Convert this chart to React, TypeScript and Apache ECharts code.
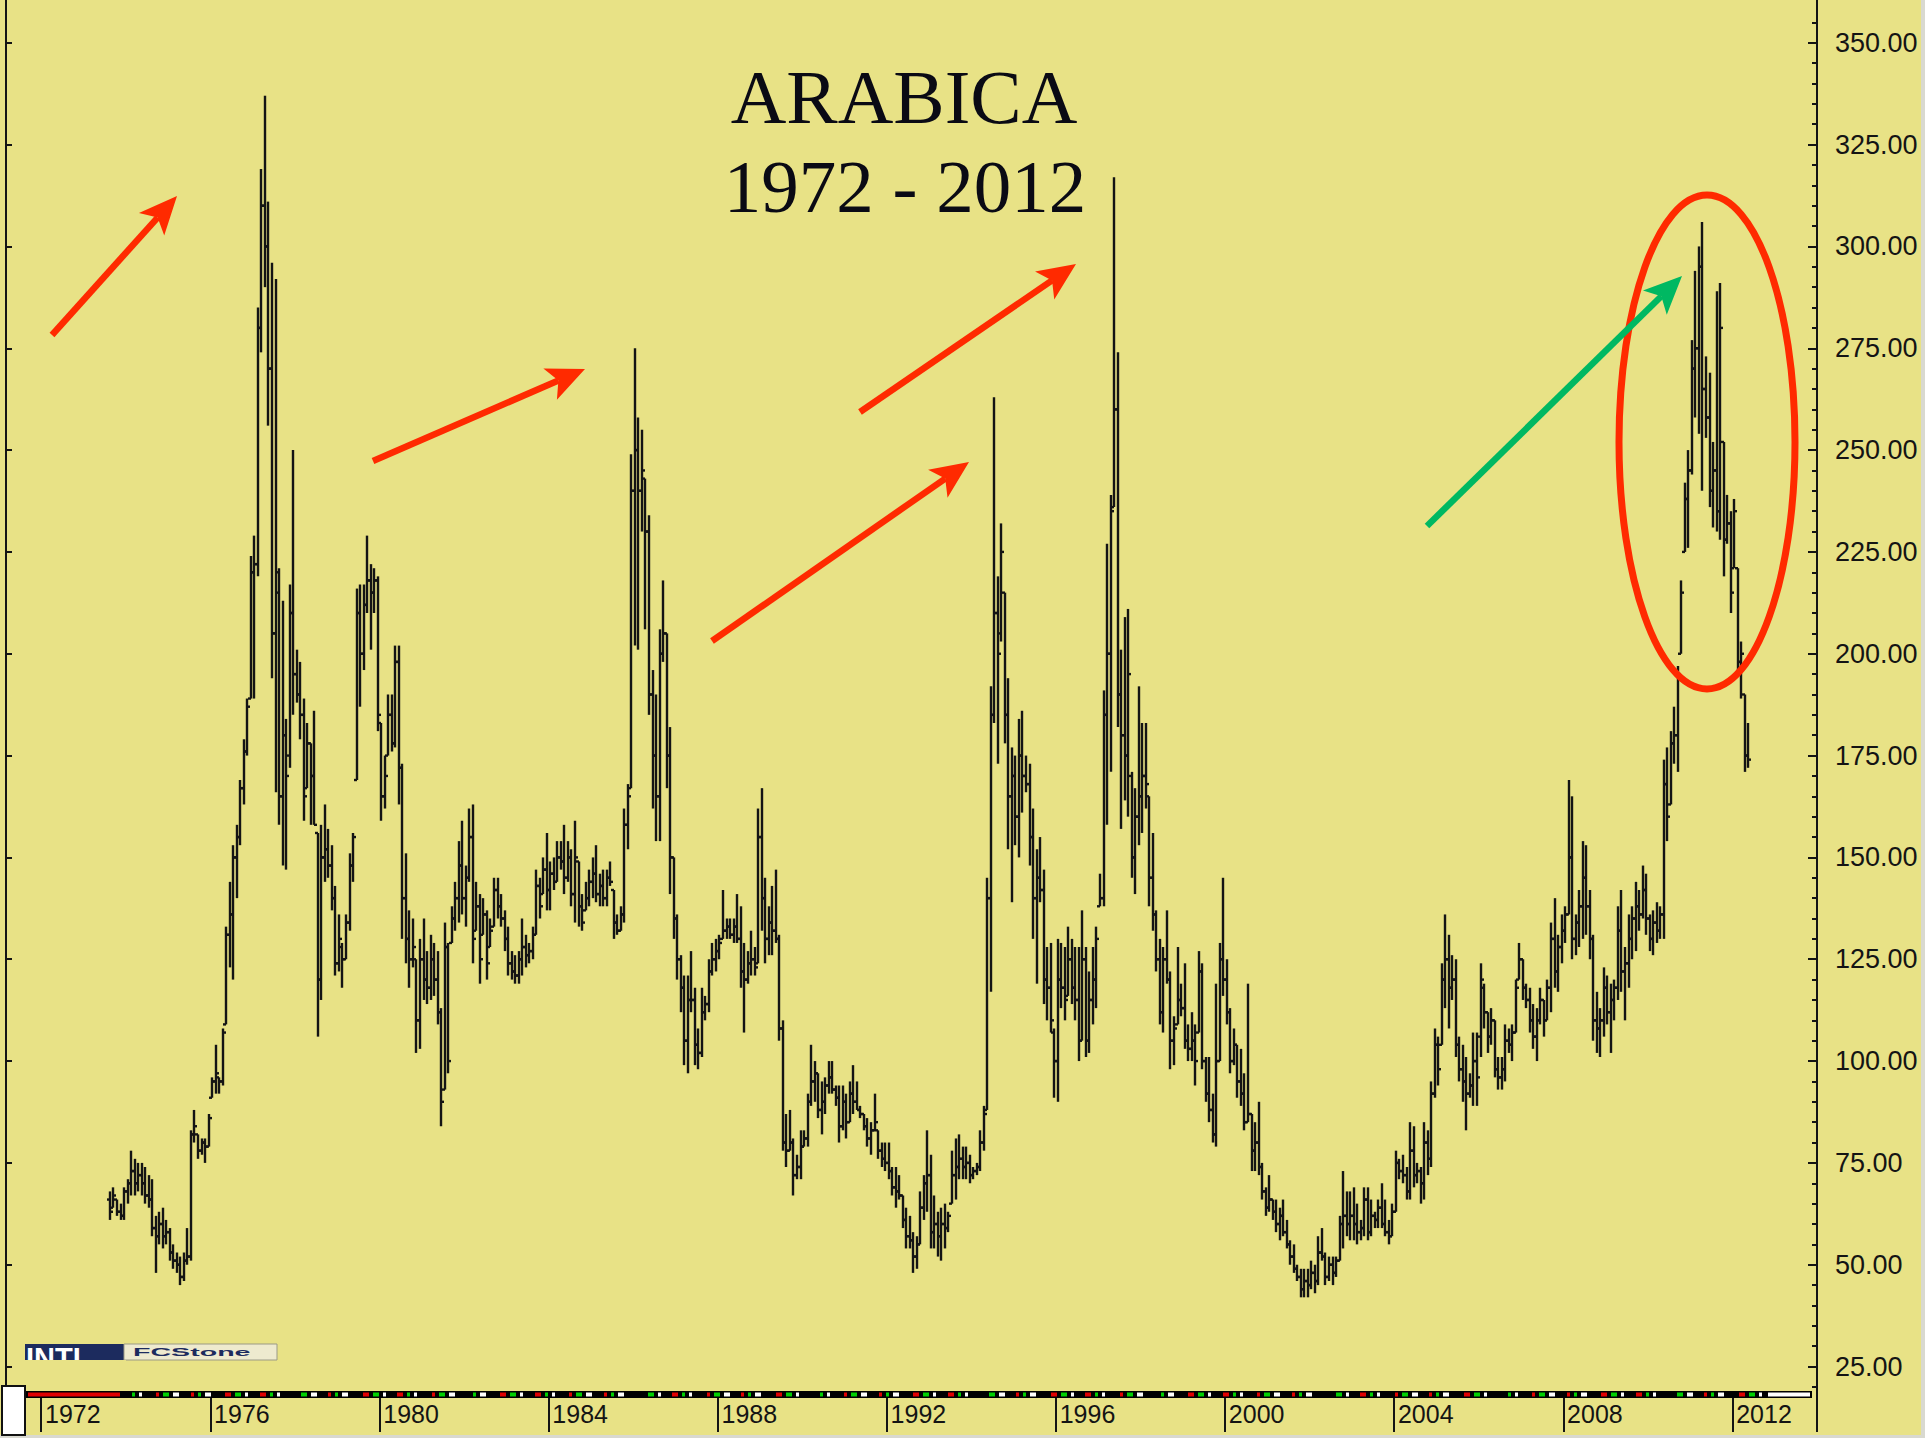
import React, { useEffect, useRef } from 'react';
import * as echarts from 'echarts';

// ---- axis definitions ----
const AXIS_START_YEAR = 1971;
const AXIS_START_MONTH = 3; // first month slot on the time axis (Mar 1971)
const AXIS_MONTHS = 514; // Mar 1971 .. Dec 2013
const FIRST_BAR_SLOT = 29; // Aug 1973

const YEAR_LABELS = ['1972', '1976', '1980', '1984', '1988', '1992', '1996', '2000', '2004', '2008', '2012'];
const PRICE_TICKS = [25, 50, 75, 100, 125, 150, 175, 200, 225, 250, 275, 300, 325, 350];
const MINOR_TICKS = [20, 30, 35, 40, 45, 55, 60, 65, 70, 80, 85, 90, 95, 105, 110, 115, 120, 130, 135, 140, 145, 155, 160, 165, 170, 180, 185, 190, 195, 205, 210, 215, 220, 230, 235, 240, 245, 255, 260, 265, 270, 280, 285, 290, 295, 305, 310, 315, 320, 330, 335, 340, 345, 355];
const Y_MIN = 19;
const Y_MAX = 360.5;

// ---- monthly OHLC, Aug 1973 .. Apr 2012 (US cents / lb) ----
const HIGH = [
  68, 69, 66, 65, 69, 71, 78, 76, 75, 75, 74, 72,
  71, 62, 63, 64, 61, 59, 55, 53, 52, 53, 59, 83,
  88, 82, 81, 81, 87, 96, 104, 96, 108, 133, 144, 153,
  158, 169, 179, 189, 224, 229, 285, 319, 337, 311, 296, 292,
  221, 213, 184, 217, 250, 201, 198, 189, 183, 178, 186, 156,
  158, 163, 157, 153, 143, 136, 129, 136, 151, 156, 216, 217,
  217, 229, 222, 221, 219, 183, 175, 190, 190, 202, 202, 173,
  151, 137, 135, 125, 130, 135, 127, 131, 129, 127, 113, 134,
  129, 138, 144, 154, 159, 148, 162, 163, 144, 141, 140, 137,
  135, 145, 145, 141, 137, 133, 127, 126, 127, 135,
  131, 129, 133, 147, 145, 150, 156, 149, 150, 154, 154, 158,
  154, 152, 159, 149, 141, 144, 147, 150, 153, 146, 147, 147,
  149, 142, 136, 138, 162, 168, 249, 275, 258, 255, 243, 234,
  196, 190, 206, 218, 205, 182, 150, 136, 126, 121, 121, 127,
  118, 108, 118, 116, 125, 129, 130, 131, 142, 135, 135, 135,
  141, 138, 129, 127, 132, 128, 162, 167, 145, 138, 143, 147,
  131, 110, 87, 88, 81, 77, 83, 83, 92, 104, 100, 97,
  95, 96, 100, 100, 94, 94, 94, 92, 95, 99, 95, 89,
  87, 86, 85, 92, 83, 80, 80, 80, 74, 74, 72, 67,
  64, 62, 58, 57, 68, 72, 83, 77, 67,
  63, 64, 65, 63, 78, 81, 82, 79, 79, 77, 74, 75,
  83, 89, 145, 192, 263, 219, 232, 215, 194, 177, 175, 184,
  186, 175, 173, 162, 152, 155, 147, 128, 129, 108, 130, 129,
  128, 133, 130, 128, 128, 137, 128, 122, 128, 133, 146, 191,
  227, 239, 317, 274, 201, 209, 211, 171, 167, 192, 183, 183,
  165, 156, 137, 130, 128, 137, 122, 111, 128, 119, 124, 109,
  112, 109, 127, 124, 101, 101, 92, 119, 129, 145, 125, 113,
  108, 104, 103, 97, 119, 87, 85, 90, 75, 69, 72, 66,
  66, 64, 66, 61, 56, 55, 50, 49, 49, 49, 51, 50,
  57, 59, 53, 52, 52, 52, 62, 73, 68, 68,
  69, 65, 61, 69, 69, 66, 63, 66, 70, 66, 61, 65,
  78, 76, 77, 74, 85, 84, 75, 74, 85, 83, 95, 108,
  106, 124, 136, 131, 126, 125, 106, 104, 101, 97, 107, 107,
  124, 119, 112, 113, 110, 101, 101, 109, 108, 109, 120, 129,
  125, 119, 118, 114, 113, 118, 115, 120, 134, 140, 131, 136,
  138, 169, 165, 136, 142, 154, 153, 142, 131, 117, 113, 123,
  121, 119, 120, 138, 142, 128, 136, 138, 144, 142, 148, 146,
  136, 137, 139, 138, 174, 177, 181, 187, 197, 218, 242, 250,
  277, 294, 300, 306, 273, 269, 252, 289, 291, 252, 239, 235,
  238, 221, 203, 190, 183,
];
const LOW = [
  61, 64, 62, 61, 61, 65, 67, 67, 68, 67, 65, 64,
  57, 48, 55, 54, 55, 51, 49, 48, 45, 46, 50, 51,
  80, 76, 77, 75, 79, 91, 92, 92, 94, 109, 123, 120,
  140, 153, 163, 175, 189, 189, 219, 274, 290, 256, 194, 166,
  158, 148, 147, 172, 185, 188, 179, 159, 167, 158, 158, 106,
  115, 144, 145, 137, 121, 122, 118, 125, 132, 144, 169, 187,
  196, 210, 201, 210, 181, 159, 162, 175, 176, 177, 163, 130,
  124, 118, 123, 102, 103, 115, 114, 115, 116, 109, 84, 93,
  97, 129, 132, 134, 136, 133, 144, 124, 132, 119, 131, 120,
  128, 133, 135, 133, 127, 121, 120, 119, 119, 121,
  123, 124, 125, 131, 135, 141, 137, 137, 142, 144, 147, 141,
  144, 138, 134, 133, 132, 137, 138, 140, 139, 138, 138, 138,
  143, 130, 131, 132, 134, 152, 167, 202, 201, 230, 206, 185,
  162, 154, 154, 198, 167, 141, 130, 120, 112, 99, 97, 112,
  99, 98, 101, 110, 112, 121, 122, 125, 130, 130, 130, 129,
  129, 118, 107, 119, 121, 121, 124, 132, 124, 126, 126, 129,
  105, 78, 74, 78, 67, 71, 71, 79, 79, 89, 90, 86,
  82, 87, 92, 92, 89, 80, 83, 81, 85, 87, 88, 86,
  83, 79, 77, 83, 76, 74, 73, 71, 67, 64, 66, 59,
  54, 54, 48, 49, 55, 61, 63, 54, 54,
  52, 51, 54, 58, 65, 66, 71, 71, 71, 70, 71, 72,
  73, 78, 88, 117, 183, 173, 203, 178, 152, 139, 153, 150,
  161, 166, 148, 130, 119, 139, 114, 110, 107, 91, 90, 113,
  110, 116, 114, 110, 100, 105, 101, 102, 109, 113, 138, 138,
  158, 171, 236, 182, 157, 164, 160, 145, 141, 153, 156, 162,
  138, 132, 122, 109, 107, 119, 98, 99, 109, 111, 103, 100,
  100, 94, 107, 98, 90, 85, 80, 79, 100, 116, 109, 97,
  99, 91, 89, 83, 85, 73, 73, 72, 66, 62, 63, 61,
  58, 56, 57, 54, 50, 48, 46, 42, 42, 42, 44, 43,
  45, 51, 45, 46, 45, 47, 51, 54, 57, 56,
  56, 55, 56, 57, 56, 57, 59, 59, 59, 57, 55, 57,
  63, 71, 70, 66, 66, 69, 70, 65, 66, 72, 74, 91,
  94, 104, 113, 108, 115, 101, 95, 90, 83, 91, 89, 89,
  101, 108, 102, 104, 96, 93, 93, 95, 102, 100, 107, 120,
  115, 113, 107, 103, 100, 109, 106, 110, 112, 118, 117, 124,
  129, 136, 125, 126, 128, 130, 131, 125, 105, 102, 101, 106,
  109, 102, 110, 115, 117, 110, 118, 125, 127, 132, 135, 131,
  127, 126, 129, 130, 130, 154, 163, 173, 171, 200, 225, 226,
  244, 258, 254, 240, 253, 236, 231, 230, 228, 219, 227, 210,
  221, 195, 189, 171, 172,
];
const OPEN = [
  66, 64, 66, 63, 62, 68, 70, 73, 70, 72, 70, 67,
  66, 59, 57, 60, 57, 58, 53, 51, 50, 47, 51, 52,
  82, 82, 78, 80, 79, 91, 95, 96, 95, 109, 131, 136,
  150, 155, 167, 176, 189, 220, 222, 280, 310, 300, 270, 205,
  215, 165, 180, 175, 210, 195, 190, 185, 167, 178, 170, 156,
  120, 150, 152, 148, 140, 124, 128, 125, 134, 148, 169, 210,
  200, 212, 218, 215, 218, 183, 165, 175, 185, 178, 198, 172,
  140, 130, 125, 125, 110, 125, 120, 118, 125, 120, 112, 93,
  128, 129, 135, 140, 148, 140, 145, 155, 132, 138, 131, 136,
  128, 133, 142, 138, 135, 130, 124, 122, 121, 125,
  128, 126, 127, 131, 143, 141, 147, 142, 146, 144, 150, 149,
  145, 150, 141, 149, 138, 137, 140, 144, 146, 141, 143, 140,
  145, 142, 134, 132, 136, 158, 167, 240, 250, 240, 243, 230,
  190, 175, 165, 200, 205, 175, 150, 135, 125, 118, 105, 115,
  115, 104, 102, 112, 114, 122, 125, 127, 130, 132, 133, 131,
  133, 130, 122, 120, 124, 125, 124, 155, 140, 130, 134, 132,
  130, 108, 80, 78, 80, 72, 74, 79, 81, 90, 95, 97,
  88, 90, 94, 96, 93, 91, 84, 90, 85, 92, 90, 88,
  87, 84, 81, 83, 83, 78, 76, 75, 73, 69, 68, 67,
  61, 57, 56, 52, 55, 64, 70, 72, 58,
  60, 57, 60, 59, 65, 72, 74, 76, 74, 75, 72, 73,
  74, 80, 88, 140, 185, 210, 205, 215, 185, 165, 170, 160,
  175, 170, 168, 155, 140, 145, 142, 120, 118, 107, 100, 120,
  118, 116, 125, 118, 115, 105, 125, 105, 115, 120, 138, 140,
  185, 200, 236, 260, 190, 180, 175, 170, 150, 160, 165, 170,
  165, 145, 136, 125, 112, 125, 120, 105, 109, 115, 113, 105,
  103, 105, 107, 122, 100, 92, 88, 82, 100, 125, 120, 112,
  100, 104, 95, 92, 85, 87, 78, 80, 74, 68, 64, 66,
  63, 60, 62, 58, 55, 52, 49, 47, 44, 46, 45, 48,
  46, 53, 52, 47, 50, 48, 51, 60, 62, 60,
  62, 60, 58, 59, 66, 58, 62, 61, 64, 60, 58, 57,
  63, 75, 73, 72, 68, 78, 72, 73, 70, 80, 76, 92,
  104, 104, 120, 125, 118, 120, 104, 98, 95, 92, 94, 100,
  106, 118, 112, 106, 110, 98, 96, 98, 105, 104, 107, 120,
  125, 118, 115, 110, 106, 110, 115, 110, 118, 130, 122, 128,
  132, 136, 150, 130, 134, 138, 145, 138, 130, 110, 108, 110,
  118, 112, 115, 118, 132, 122, 124, 130, 135, 138, 136, 142,
  135, 130, 134, 132, 136, 168, 163, 178, 180, 200, 225, 238,
  245, 270, 275, 295, 265, 258, 240, 245, 235, 252, 228, 232,
  221, 221, 198, 190, 175,
];
const CLOSE = [
  63, 67, 63, 62, 68, 70, 73, 70, 72, 70, 67, 66,
  59, 57, 60, 57, 58, 53, 51, 50, 47, 51, 52, 82,
  84, 78, 80, 79, 86, 95, 97, 95, 107, 131, 136, 150,
  155, 167, 176, 187, 220, 222, 280, 310, 300, 270, 205, 220,
  165, 180, 170, 210, 195, 190, 185, 165, 178, 170, 158, 120,
  150, 152, 148, 140, 124, 130, 125, 134, 148, 155, 210, 200,
  212, 218, 215, 218, 185, 165, 170, 185, 178, 198, 172, 140,
  130, 125, 128, 110, 125, 120, 118, 125, 120, 112, 90, 128,
  100, 135, 140, 148, 140, 145, 155, 130, 138, 125, 136, 124,
  132, 142, 138, 135, 130, 124, 122, 121, 125, 128,
  126, 127, 131, 143, 138, 147, 142, 146, 144, 150, 149, 145,
  150, 141, 150, 138, 134, 140, 144, 146, 141, 143, 140, 145,
  144, 134, 132, 136, 158, 165, 240, 250, 240, 245, 230, 190,
  175, 165, 200, 205, 175, 150, 135, 125, 118, 105, 115, 115,
  104, 102, 112, 114, 122, 125, 127, 129, 132, 133, 131, 133,
  130, 122, 120, 124, 125, 123, 155, 140, 130, 134, 132, 130,
  108, 80, 78, 80, 72, 74, 79, 81, 90, 95, 97, 88,
  90, 94, 96, 93, 91, 84, 90, 85, 92, 90, 88, 87,
  84, 81, 83, 85, 78, 76, 75, 73, 69, 68, 67, 61,
  57, 56, 52, 55, 64, 70, 72, 58, 60,
  57, 60, 59, 62, 72, 74, 76, 74, 75, 72, 73, 74,
  80, 87, 140, 185, 210, 200, 225, 185, 165, 170, 160, 175,
  170, 168, 155, 140, 145, 142, 120, 118, 110, 100, 120, 118,
  115, 125, 118, 115, 105, 125, 105, 115, 120, 130, 140, 185,
  200, 235, 260, 190, 180, 175, 195, 150, 160, 165, 170, 168,
  145, 136, 125, 112, 125, 120, 105, 108, 115, 113, 105, 103,
  105, 100, 122, 100, 92, 88, 82, 100, 125, 120, 112, 100,
  104, 95, 92, 85, 87, 78, 80, 74, 68, 64, 66, 63,
  60, 62, 58, 55, 52, 49, 47, 44, 46, 45, 48, 46,
  53, 52, 47, 50, 48, 51, 60, 62, 60, 62,
  60, 58, 59, 66, 58, 62, 61, 64, 60, 58, 57, 63,
  75, 73, 72, 68, 78, 72, 73, 70, 80, 76, 92, 104,
  98, 120, 125, 118, 120, 104, 98, 95, 92, 94, 100, 96,
  120, 112, 106, 110, 98, 96, 98, 105, 104, 107, 118, 125,
  118, 115, 110, 106, 110, 115, 110, 118, 130, 122, 128, 132,
  136, 150, 130, 134, 138, 145, 138, 130, 110, 108, 110, 118,
  112, 115, 118, 132, 122, 124, 130, 135, 138, 136, 142, 135,
  130, 134, 132, 136, 168, 160, 178, 180, 195, 215, 238, 245,
  270, 275, 295, 265, 258, 240, 245, 235, 280, 228, 232, 215,
  235, 198, 200, 175, 174,
];

// ---- styling ----
const BG = '#E8E286';
const INK = '#141414';
const RED = '#FF2A00';
const GREEN = '#00B862';
const NAVY = '#1C2B5E';

const CATEGORIES: string[] = [];
for (let k = 0; k < AXIS_MONTHS; k++) {
  const m0 = AXIS_START_MONTH - 1 + k;
  const yr = AXIS_START_YEAR + Math.floor(m0 / 12);
  const mo = (m0 % 12) + 1;
  CATEGORIES.push(`${yr}-${String(mo).padStart(2, '0')}`);
}
const isYearTick = (_i: number, v: string) => v.endsWith('-01') && YEAR_LABELS.includes(v.slice(0, 4));

function arrow(x1: number, y1: number, x2: number, y2: number, color: string) {
  const dx = x2 - x1, dy = y2 - y1;
  const len = Math.hypot(dx, dy);
  const ux = dx / len, uy = dy / len, nx = -uy, ny = ux;
  const hl = 38, hw = 17, notch = 9;
  const bx = x2 - ux * hl, by = y2 - uy * hl;
  return [
    { type: 'line', z: 50, shape: { x1, y1, x2: x2 - ux * (hl - notch), y2: y2 - uy * (hl - notch) }, style: { stroke: color, lineWidth: 6.5 } },
    {
      type: 'polygon', z: 50,
      shape: { points: [[x2, y2], [bx + nx * hw, by + ny * hw], [x2 - ux * (hl - notch), y2 - uy * (hl - notch)], [bx - nx * hw, by - ny * hw]] },
      style: { fill: color },
    },
  ];
}

function stripMarks() {
  const els: any[] = [];
  els.push({ type: 'rect', z: 60, shape: { x: 25, y: 1391, width: 1787, height: 7 }, style: { fill: '#000' } });
  els.push({ type: 'rect', z: 61, shape: { x: 28, y: 1392.5, width: 92, height: 4 }, style: { fill: '#E00000' } });
  els.push({ type: 'rect', z: 61, shape: { x: 1768, y: 1392.5, width: 42, height: 4 }, style: { fill: '#FFFFFF' } });
  const variants = [[6, 3, 3], [3, 6, 6], [3, 3, 6], [6, 6, 3]];
  const colors = ['#E00000', '#00D000', '#FFFFFF'];
  let g = 0;
  for (let x = 122; x < 1760; x += 34.4) {
    const v = variants[g % 4];
    let cx = x;
    for (let c = 0; c < 3; c++) {
      if (!(g % 5 === 0 && c === 0)) {
        els.push({ type: 'rect', z: 61, shape: { x: Math.round(cx), y: 1392.5, width: v[c], height: 4 }, style: { fill: colors[c] } });
      }
      cx += v[c] + 4;
    }
    g++;
  }
  return els;
}

function decorations() {
  return [
    // title
    { type: 'text', z: 40, x: 904, y: 97, style: { text: 'ARABICA', fontFamily: "'Liberation Serif', serif", fontSize: 77, fill: '#0a0a14', align: 'center', verticalAlign: 'middle' } },
    { type: 'text', z: 40, x: 905, y: 186, style: { text: '1972 - 2012', fontFamily: "'Liberation Serif', serif", fontSize: 75, fill: '#0a0a14', align: 'center', verticalAlign: 'middle' } },
    // arrows
    ...arrow(52, 335, 177, 196, RED),
    ...arrow(373, 461, 585, 369, RED),
    ...arrow(712, 641, 969, 462, RED),
    ...arrow(860, 412, 1076, 264, RED),
    ...arrow(1427, 526, 1682, 276, GREEN),
    // circle around the 2011 peak
    { type: 'ellipse', z: 45, shape: { cx: 1707, cy: 442, rx: 88, ry: 247 }, style: { fill: 'none', stroke: RED, lineWidth: 7 } },
    // logo
    { type: 'rect', z: 70, shape: { x: 25, y: 1344, width: 99, height: 16 }, style: { fill: NAVY } },
    { type: 'text', z: 71, x: 26, y: 1343, style: { text: 'INTL', fontFamily: "'Liberation Sans', sans-serif", fontWeight: 'bold', fontSize: 29, fill: '#ffffff', align: 'left', verticalAlign: 'top' } },
    { type: 'rect', z: 72, shape: { x: 22, y: 1360, width: 104, height: 14 }, style: { fill: BG } },
    { type: 'rect', z: 70, shape: { x: 124, y: 1344, width: 153, height: 16 }, style: { fill: '#EEEACF', stroke: '#9b9a86', lineWidth: 1 } },
    { type: 'text', z: 71, x: 133, y: 1352, scaleX: 2.6, style: { text: 'FCStone', fontFamily: "'Liberation Sans', sans-serif", fontWeight: 'bold', fontSize: 11, fill: NAVY, align: 'left', verticalAlign: 'middle' } },
    // bottom strip and left box
    ...stripMarks(),
    { type: 'rect', z: 65, shape: { x: 2, y: 1386, width: 23, height: 49 }, style: { fill: '#ffffff', stroke: '#111', lineWidth: 2 } },
    // page edges
    { type: 'rect', z: 10, shape: { x: 1921, y: 0, width: 4, height: 1438 }, style: { fill: '#d9d9d0' } },
    { type: 'rect', z: 10, shape: { x: 0, y: 1435, width: 1925, height: 3 }, style: { fill: '#d9d9d0' } },
  ];
}

export default function App() {
  const ref = useRef<HTMLDivElement>(null);
  useEffect(() => {
    if (!ref.current) return;
    const chart = echarts.init(ref.current, undefined, { renderer: 'svg' });
    const bars = HIGH.map((h, i) => [FIRST_BAR_SLOT + i, OPEN[i], CLOSE[i], LOW[i], h]);
    const labelFont = "'Liberation Sans', Arial, sans-serif";
    chart.setOption({
      animation: false,
      backgroundColor: BG,
      grid: { left: 6, right: 108, top: 0, height: 1391 },
      xAxis: {
        type: 'category',
        data: CATEGORIES,
        boundaryGap: true,
        axisLine: { show: false },
        axisTick: { show: true, interval: isYearTick, length: 41, lineStyle: { color: INK, width: 2 } },
        axisLabel: {
          interval: isYearTick,
          formatter: (v: string) => v.slice(0, 4),
          align: 'left',
          margin: 10,
          padding: [0, 0, 0, 2],
          fontSize: 25,
          fontFamily: labelFont,
          color: INK,
        },
        splitLine: { show: false },
      },
      yAxis: [
        {
          type: 'value', position: 'right', min: Y_MIN, max: Y_MAX,
          axisLine: { show: true, lineStyle: { color: INK, width: 2 } },
          axisTick: { show: true, inside: true, length: 9, customValues: PRICE_TICKS, lineStyle: { color: INK, width: 2 } },
          axisLabel: {
            show: true, customValues: PRICE_TICKS, formatter: (v: number) => v.toFixed(2),
            margin: 18, fontSize: 27, fontFamily: labelFont, color: INK, padding: [0, 0, 12, 0],
          },
          splitLine: { show: false },
        },
        {
          type: 'value', position: 'right', min: Y_MIN, max: Y_MAX,
          axisLine: { show: false },
          axisTick: { show: true, inside: true, length: 5, customValues: MINOR_TICKS, lineStyle: { color: INK, width: 2 } },
          axisLabel: { show: false },
          splitLine: { show: false },
        },
        {
          type: 'value', position: 'left', min: Y_MIN, max: Y_MAX,
          axisLine: { show: true, lineStyle: { color: INK, width: 2 } },
          axisTick: { show: true, inside: true, length: 6, customValues: PRICE_TICKS, lineStyle: { color: INK, width: 2 } },
          axisLabel: { show: false },
          splitLine: { show: false },
        },
      ],
      series: [
        {
          type: 'custom',
          name: 'Arabica',
          xAxisIndex: 0,
          yAxisIndex: 0,
          data: bars,
          encode: { x: 0, y: [1, 2, 3, 4] },
          renderItem: (_p: any, api: any) => {
            const x = api.value(0);
            const pO = api.coord([x, api.value(1)]);
            const pC = api.coord([x, api.value(2)]);
            const pL = api.coord([x, api.value(3)]);
            const pH = api.coord([x, api.value(4)]);
            const cx = Math.round(pH[0]);
            const style = { stroke: INK, lineWidth: 2.4, fill: null };
            return {
              type: 'group',
              children: [
                { type: 'line', shape: { x1: cx, y1: pH[1], x2: cx, y2: pL[1] }, style },
                { type: 'line', shape: { x1: cx - 3, y1: pO[1], x2: cx, y2: pO[1] }, style },
                { type: 'line', shape: { x1: cx, y1: pC[1], x2: cx + 3, y2: pC[1] }, style },
              ],
            };
          },
        },
      ],
      graphic: decorations(),
    });
    return () => chart.dispose();
  }, []);
  return <div ref={ref} style={{ position: 'fixed', left: 0, top: 0, width: 1925, height: 1438, background: BG }} />;
}
